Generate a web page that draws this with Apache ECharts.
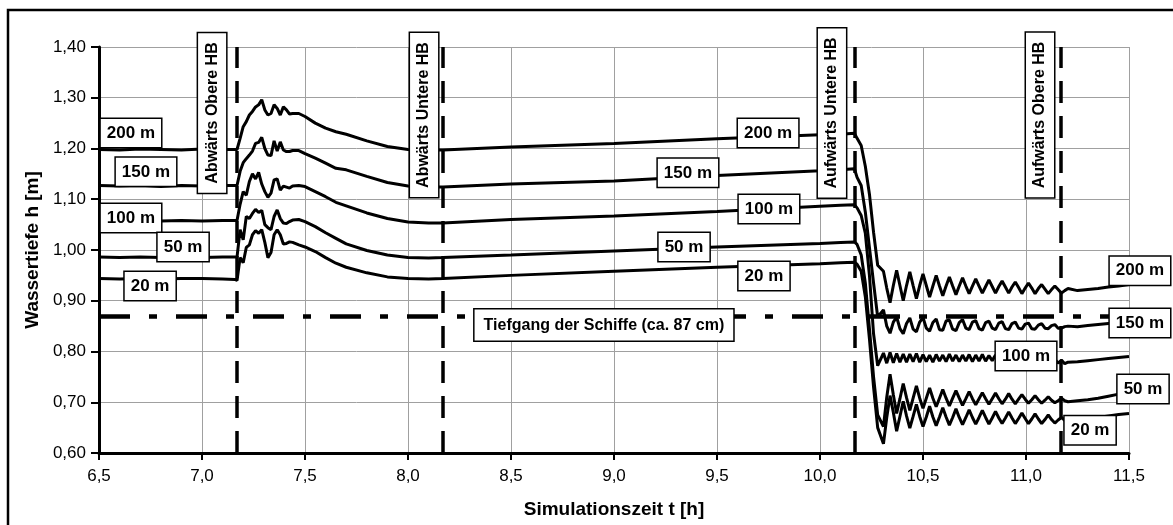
<!DOCTYPE html>
<html>
<head>
<meta charset="utf-8">
<script src="https://cdn.jsdelivr.net/npm/echarts@6/dist/echarts.min.js"></script>
<style>
  html, body { margin: 0; padding: 0; background: #fff; }
  #chart { width: 1173px; height: 525px; }
</style>
</head>
<body>
<div id="chart"></div>
<script>
// Zeitachse (h) – gemeinsam für alle Messstellen
const times = [
  6.5, 6.6, 6.7, 6.8, 6.9, 7.0, 7.1, 7.16,
  7.17, 7.185, 7.2, 7.215, 7.23, 7.245, 7.26, 7.275, 7.29, 7.305, 7.32, 7.335, 7.35, 7.365, 7.38, 7.395, 7.41, 7.425, 7.44, 7.47, 7.5, 7.55, 7.6, 7.65,
  7.7, 7.8, 7.9, 8.0, 8.1, 8.17, 8.5, 9.0, 9.5, 10.0, 10.1,
  10.167, 10.18, 10.2, 10.22, 10.24, 10.26, 10.28,
  10.308, 10.324, 10.34, 10.356, 10.372, 10.388, 10.404, 10.42, 10.436, 10.452, 10.468, 10.484, 10.5, 10.516, 10.532, 10.548,
  10.564, 10.58, 10.596, 10.612, 10.628, 10.644, 10.66, 10.676, 10.692, 10.708, 10.724, 10.74, 10.756, 10.772, 10.788, 10.804,
  10.82, 10.836, 10.852, 10.868, 10.884, 10.9, 10.916, 10.932, 10.948, 10.964, 10.98, 10.996, 11.012, 11.028, 11.044, 11.06,
  11.076, 11.092, 11.108, 11.124, 11.14, 11.156, 11.172, 11.188, 11.204,
  11.25, 11.3, 11.35, 11.4, 11.45, 11.5
];

// Wassertiefe h (m) je Entfernung
const h200 = [
  1.198, 1.197, 1.199, 1.198, 1.197, 1.199, 1.198, 1.198,
  1.198, 1.220, 1.243, 1.253, 1.266, 1.273, 1.282, 1.286, 1.296, 1.276, 1.266, 1.269, 1.286, 1.279, 1.266, 1.282, 1.276, 1.268, 1.269, 1.269, 1.263, 1.250, 1.240, 1.233,
  1.228, 1.215, 1.204, 1.198, 1.197, 1.197, 1.203, 1.210, 1.219, 1.227, 1.228,
  1.230, 1.220, 1.206, 1.165, 1.110, 1.035, 0.970,
  0.958, 0.925, 0.896, 0.930, 0.960, 0.930, 0.900, 0.930, 0.957, 0.930, 0.904, 0.930, 0.953, 0.930, 0.907, 0.929,
  0.950, 0.929, 0.910, 0.929, 0.947, 0.929, 0.912, 0.929, 0.945, 0.929, 0.914, 0.929, 0.943, 0.929, 0.915, 0.928,
  0.941, 0.928, 0.915, 0.928, 0.939, 0.927, 0.915, 0.927, 0.937, 0.926, 0.914, 0.925, 0.935, 0.925, 0.914, 0.924,
  0.932, 0.923, 0.914, 0.922, 0.929, 0.922, 0.915, 0.920, 0.924,
  0.920, 0.922, 0.924, 0.927, 0.929, 0.932
];
const h150 = [
  1.127, 1.126, 1.127, 1.125, 1.127, 1.126, 1.127, 1.127,
  1.127, 1.155, 1.172, 1.180, 1.187, 1.195, 1.210, 1.212, 1.222, 1.200, 1.187, 1.186, 1.215, 1.195, 1.213, 1.197, 1.194, 1.194, 1.196, 1.196, 1.190, 1.181, 1.171, 1.161,
  1.158, 1.145, 1.133, 1.126, 1.124, 1.124, 1.130, 1.136, 1.147, 1.156, 1.158,
  1.160, 1.143, 1.127, 1.075, 1.005, 0.935, 0.868,
  0.882, 0.850, 0.836, 0.858, 0.868, 0.845, 0.835, 0.855, 0.866, 0.844, 0.839, 0.858, 0.867, 0.846, 0.840, 0.857,
  0.864, 0.843, 0.842, 0.860, 0.862, 0.844, 0.841, 0.857, 0.863, 0.846, 0.843, 0.858, 0.861, 0.845, 0.842, 0.857,
  0.860, 0.846, 0.843, 0.856, 0.859, 0.845, 0.843, 0.855, 0.858, 0.846, 0.844, 0.854, 0.856, 0.845, 0.844, 0.852,
  0.855, 0.846, 0.845, 0.851, 0.853, 0.846, 0.846, 0.849, 0.850,
  0.849, 0.851, 0.853, 0.855, 0.857, 0.859
];
const h100 = [
  1.058, 1.057, 1.058, 1.057, 1.058, 1.057, 1.058, 1.058,
  1.058, 1.090, 1.115, 1.108, 1.135, 1.150, 1.140, 1.153, 1.130, 1.115, 1.104, 1.112, 1.138, 1.140, 1.118, 1.126, 1.124, 1.122, 1.126, 1.127, 1.125, 1.115, 1.105, 1.094,
  1.087, 1.073, 1.062, 1.055, 1.053, 1.053, 1.060, 1.067, 1.076, 1.086, 1.088,
  1.089, 1.083, 1.068, 1.033, 0.950, 0.835, 0.772,
  0.797, 0.777, 0.798, 0.778, 0.796, 0.779, 0.795, 0.779, 0.795, 0.780, 0.796, 0.779, 0.794, 0.780, 0.793, 0.779,
  0.794, 0.781, 0.793, 0.780, 0.795, 0.781, 0.793, 0.780, 0.793, 0.781, 0.794, 0.780, 0.793, 0.781, 0.794, 0.781,
  0.792, 0.782, 0.793, 0.781, 0.792, 0.782, 0.791, 0.781, 0.790, 0.781, 0.790, 0.780, 0.789, 0.780, 0.788, 0.779,
  0.787, 0.778, 0.786, 0.777, 0.785, 0.777, 0.783, 0.776, 0.779,
  0.780, 0.782, 0.784, 0.786, 0.788, 0.790
];
const h50 = [
  0.986, 0.985, 0.986, 0.985, 0.986, 0.985, 0.986, 0.986,
  0.986, 1.040, 1.020, 1.066, 1.062, 1.072, 1.080, 1.074, 1.078, 1.050, 1.044, 1.040, 1.066, 1.079, 1.062, 1.053, 1.052, 1.056, 1.059, 1.060, 1.056, 1.046, 1.034, 1.023,
  1.012, 0.999, 0.990, 0.985, 0.984, 0.985, 0.990, 0.998, 1.006, 1.013, 1.015,
  1.016, 1.011, 0.990, 0.935, 0.845, 0.750, 0.675,
  0.652, 0.710, 0.755, 0.715, 0.678, 0.707, 0.737, 0.709, 0.684, 0.708, 0.732, 0.708, 0.688, 0.708, 0.728, 0.708,
  0.691, 0.708, 0.725, 0.708, 0.693, 0.708, 0.723, 0.708, 0.694, 0.707, 0.721, 0.707, 0.695, 0.707, 0.719, 0.707,
  0.696, 0.707, 0.718, 0.707, 0.697, 0.706, 0.717, 0.706, 0.697, 0.706, 0.715, 0.706, 0.698, 0.705, 0.713, 0.705,
  0.698, 0.704, 0.711, 0.704, 0.699, 0.703, 0.708, 0.703, 0.701,
  0.703, 0.705, 0.708, 0.712, 0.716, 0.720
];
const h20 = [
  0.944, 0.943, 0.944, 0.943, 0.944, 0.944, 0.943, 0.942,
  0.940, 0.985, 0.975, 1.005, 1.010, 1.030, 1.038, 1.033, 1.040, 1.015, 0.985, 0.995, 1.030, 1.040, 1.030, 1.012, 1.013, 1.016, 1.015, 1.010, 1.006, 0.997, 0.985, 0.974,
  0.966, 0.955, 0.947, 0.944, 0.943, 0.944, 0.950, 0.958, 0.966, 0.973, 0.975,
  0.976, 0.972, 0.958, 0.908, 0.825, 0.730, 0.650,
  0.618, 0.670, 0.713, 0.680, 0.643, 0.672, 0.702, 0.673, 0.649, 0.672, 0.696, 0.672, 0.652, 0.671, 0.692, 0.671,
  0.654, 0.671, 0.689, 0.671, 0.655, 0.670, 0.687, 0.670, 0.656, 0.670, 0.685, 0.670, 0.657, 0.670, 0.684, 0.670,
  0.657, 0.669, 0.682, 0.669, 0.658, 0.669, 0.681, 0.669, 0.658, 0.668, 0.679, 0.668, 0.658, 0.667, 0.677, 0.667,
  0.658, 0.666, 0.675, 0.666, 0.659, 0.665, 0.670, 0.664, 0.662,
  0.664, 0.667, 0.670, 0.673, 0.676, 0.678
];

// Zeitpunkte der Schiffsdurchfahrten und Tiefgang
const passTimes = [7.1667, 8.1667, 10.1667, 11.1667];
const draft = 0.87;

// Beschriftungen [Text, t, h]
const curveLabels = [
  ['200 m', 6.655, 1.2305], ['150 m', 6.728, 1.154], ['100 m', 6.655, 1.063], ['50 m', 6.908, 1.006], ['20 m', 6.748, 0.929],
  ['200 m', 9.748, 1.2305], ['150 m', 9.359, 1.152], ['100 m', 9.752, 1.081], ['50 m', 9.340, 1.006], ['20 m', 9.728, 0.949],
  ['200 m', 11.553, 0.959], ['150 m', 11.553, 0.856], ['100 m', 11.0, 0.791], ['50 m', 11.568, 0.726], ['20 m', 11.311, 0.645]
];
const passLabels = [
  ['Abwärts Obere HB', 7.049, 1.270], ['Abwärts Untere HB', 8.078, 1.266],
  ['Aufwärts Untere HB', 10.058, 1.270], ['Aufwärts Obere HB', 11.068, 1.266]
];
const draftLabel = ['Tiefgang der Schiffe (ca. 87 cm)', 8.951, 0.852];

const font = "'Liberation Sans', Arial, sans-serif";
const comma = (v, d) => v.toFixed(d).replace('.', ',');
const pairs = vals => times.map((t, i) => [t, vals[i]]);

function lineSeries(name, vals, extra) {
  return Object.assign({
    name: name,
    type: 'line',
    data: pairs(vals),
    symbol: 'none',
    smooth: false,
    lineStyle: { color: '#000', width: 3 },
    z: 3
  }, extra || {});
}

const chart = echarts.init(document.getElementById('chart'));
chart.setOption({
  animation: false,
  backgroundColor: '#fff',
  textStyle: { fontFamily: font },
  grid: { left: 99, right: 44, top: 47, bottom: 72 },
  xAxis: {
    type: 'value',
    min: 6.5,
    max: 11.5,
    interval: 0.5,
    name: 'Simulationszeit t [h]',
    nameLocation: 'middle',
    nameGap: 47,
    nameTextStyle: { fontSize: 19, fontWeight: 'bold', color: '#000', fontFamily: font },
    axisLine: { lineStyle: { color: '#000', width: 3 } },
    axisTick: { show: true, length: 7, lineStyle: { color: '#000', width: 2 } },
    axisLabel: { fontSize: 17, color: '#000', margin: 15, formatter: v => comma(v, 1) },
    splitLine: { show: true, lineStyle: { color: '#a0a0a0', width: 1 } }
  },
  yAxis: {
    type: 'value',
    min: 0.6,
    max: 1.4,
    interval: 0.1,
    name: 'Wassertiefe h [m]',
    nameLocation: 'middle',
    nameGap: 55,
    nameTextStyle: { fontSize: 19, fontWeight: 'bold', color: '#000', fontFamily: font },
    axisLine: { show: true, lineStyle: { color: '#000', width: 3 } },
    axisTick: { show: true, length: 8, lineStyle: { color: '#000', width: 2 } },
    axisLabel: { fontSize: 17, color: '#000', margin: 13, formatter: v => comma(v, 2) },
    splitLine: { show: true, lineStyle: { color: '#a0a0a0', width: 1 } }
  },
  series: [
    lineSeries('200 m', h200, {
      markLine: {
        silent: true,
        symbol: ['none', 'none'],
        label: { show: false },
        data: passTimes.map(t => ({
          xAxis: t,
          lineStyle: { color: '#000', width: 3.5, type: [22, 13] }
        })).concat([{
          yAxis: draft,
          lineStyle: { color: '#000', width: 4.5, type: [31, 19, 8, 19] }
        }])
      }
    }),
    lineSeries('150 m', h150),
    lineSeries('100 m', h100),
    lineSeries('50 m', h50),
    lineSeries('20 m', h20)
  ]
});

// Textkästen: Position über die Achsen des Diagramms umrechnen
function box(item, size, pad, rotate) {
  const p = chart.convertToPixel({ gridIndex: 0 }, [item[1], item[2]]);
  return {
    type: 'text',
    x: p[0],
    y: p[1],
    rotation: rotate ? Math.PI / 2 : 0,
    z: 100,
    silent: true,
    style: {
      text: item[0],
      align: 'center',
      verticalAlign: 'middle',
      fontFamily: font,
      fontSize: size,
      fontWeight: 'bold',
      lineHeight: size,
      fill: '#000',
      backgroundColor: '#fff',
      borderColor: '#000',
      borderWidth: 1.5,
      padding: pad
    }
  };
}

const graphics = [{
  type: 'rect',
  shape: { x: 8, y: 10, width: 1400, height: 800 },
  style: { fill: 'none', stroke: '#000', lineWidth: 2.5 },
  silent: true,
  z: 100
}];
curveLabels.forEach(l => graphics.push(box(l, 17, [6, 6, 5, 6], false)));
passLabels.forEach(l => graphics.push(box(l, 16, [6, 9, 6, 9], true)));
graphics.push(box(draftLabel, 16, [8, 9, 7, 9], false));

chart.setOption({ graphic: graphics });
</script>
</body>
</html>
